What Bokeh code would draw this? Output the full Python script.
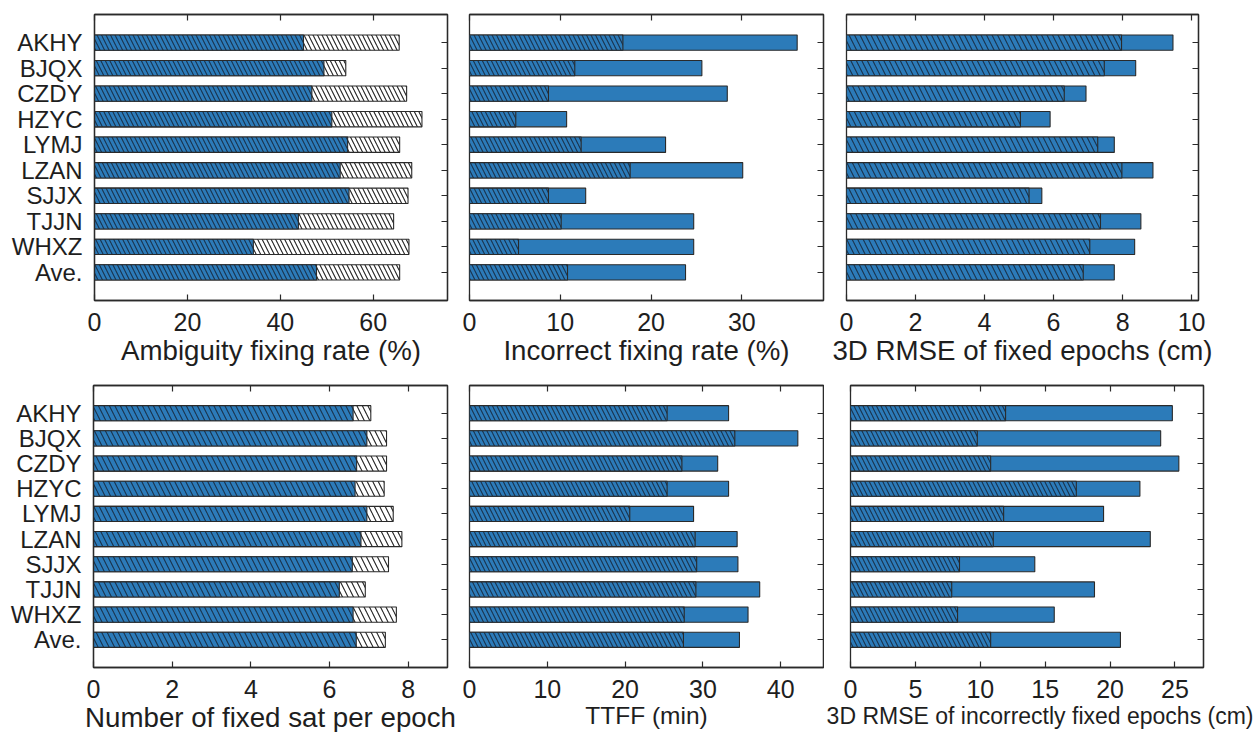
from bokeh.plotting import figure
from bokeh.models import (FactorRange, Range1d, FixedTicker, LinearAxis, Title,
                          CategoricalAxis, CustomJSTickFormatter, ColumnDataSource)
from bokeh.layouts import column, row
from bokeh.embed import file_html
from bokeh.resources import INLINE

# ---------------- data ----------------
stations = ["AKHY", "BJQX", "CZDY", "HZYC", "LYMJ", "LZAN", "SJJX", "TJJN", "WHXZ", "Ave."]

fix_rate_a = [45.0, 49.4, 46.8, 51.1, 54.5, 52.9, 54.8, 43.9, 34.2, 47.8]
fix_rate_b = [65.6, 54.1, 67.2, 70.5, 65.7, 68.3, 67.5, 64.4, 67.7, 65.7]

wrong_rate_a = [16.9, 11.6, 8.7, 5.1, 12.3, 17.7, 8.7, 10.1, 5.4, 10.8]
wrong_rate_b = [36.1, 25.6, 28.4, 10.7, 21.6, 30.1, 12.8, 24.7, 24.7, 23.8]

rmse_fixed_a = [7.97, 7.47, 6.31, 5.04, 7.28, 7.98, 5.29, 7.36, 7.05, 6.86]
rmse_fixed_b = [9.46, 8.38, 6.94, 5.90, 7.76, 8.88, 5.66, 8.53, 8.35, 7.76]

nsat_a = [6.60, 6.95, 6.69, 6.65, 6.95, 6.80, 6.58, 6.25, 6.60, 6.68]
nsat_b = [7.05, 7.45, 7.45, 7.39, 7.62, 7.84, 7.50, 6.91, 7.70, 7.42]

ttff_a = [25.4, 34.1, 27.3, 25.4, 20.6, 29.0, 29.2, 29.1, 27.6, 27.5]
ttff_b = [33.3, 42.2, 31.9, 33.3, 28.8, 34.4, 34.5, 37.3, 35.8, 34.7]

rmse_wrong_a = [11.95, 9.77, 10.8, 17.4, 11.8, 11.0, 8.4, 7.8, 8.25, 10.8]
rmse_wrong_b = [24.8, 23.9, 25.3, 22.3, 19.5, 23.1, 14.2, 18.8, 15.7, 20.8]

ticks_1 = [0, 20, 40, 60]
ticks_2 = [0, 10, 20, 30]
ticks_3 = [0, 2, 4, 6, 8, 10]
ticks_4 = [0, 2, 4, 6, 8]
ticks_5 = [0, 10, 20, 30, 40]
ticks_6 = [0, 5, 10, 15, 20, 25]

titles = ["Ambiguity fixing rate (%)", "Incorrect fixing rate (%)",
          "3D RMSE of fixed epochs (cm)", "Number of fixed sat per epoch",
          "TTFF (min)", "3D RMSE of incorrectly fixed epochs (cm)"]

# ---------------- style ----------------
BLUE = "#2C7BB9"
EDGE = "#2a2a2a"
TXT = "#1e1e1e"
FONT = "Liberation Sans"


def panel(title, a, b, xmax, ticks, white_total, hscale, frame_w, frame_h,
          bl, br, bt, bb, show_cats, title_size="27.7px", title_as_obj=False,
          title_offset=0):
    yr = FactorRange(factors=list(reversed(stations)), range_padding=0.6,
                     range_padding_units="absolute")
    p = figure(y_range=yr, x_range=Range1d(0, xmax), frame_width=frame_w,
               frame_height=frame_h, min_border_left=bl, min_border_right=br,
               min_border_top=bt, min_border_bottom=bb, output_backend="svg",
               toolbar_location=None, tools="")
    p.xgrid.visible = False
    p.ygrid.visible = False
    p.outline_line_color = EDGE
    p.outline_line_width = 1.3
    p.background_fill_color = "white"
    p.border_fill_color = "white"

    src = ColumnDataSource(dict(y=stations, a=a, b=b))
    if white_total:
        p.hbar(y="y", left=0, right="b", height=0.6, source=src,
               fill_color="white", line_color=EDGE, line_width=1.1,
               hatch_pattern="\\", hatch_color="#222222", hatch_scale=hscale,
               hatch_weight=1.1)
    else:
        p.hbar(y="y", left=0, right="b", height=0.6, source=src,
               fill_color=BLUE, line_color=EDGE, line_width=1.1)
    p.hbar(y="y", left=0, right="a", height=0.6, source=src,
           fill_color=BLUE, line_color=EDGE, line_width=1.1,
           hatch_pattern="\\", hatch_color="#15263a", hatch_alpha=0.85,
           hatch_scale=hscale, hatch_weight=1.1)

    # bottom axis
    xa = p.xaxis[0]
    xa.ticker = FixedTicker(ticks=ticks)
    xa.major_tick_in = 6
    xa.major_tick_out = 0
    xa.minor_tick_line_color = None
    xa.axis_line_color = EDGE
    xa.axis_line_width = 1.3
    xa.major_tick_line_color = EDGE
    xa.major_tick_line_width = 1.2
    xa.major_label_text_font = FONT
    xa.major_label_text_font_size = "25px"
    xa.major_label_text_color = TXT
    xa.major_label_standoff = 12
    if title_as_obj:
        t = Title(text=title, align="right", offset=title_offset,
                  text_font=FONT, text_font_size=title_size,
                  text_font_style="normal", text_color=TXT, standoff=1)
        p.add_layout(t, "below")
    else:
        xa.axis_label = title
        xa.axis_label_text_font = FONT
        xa.axis_label_text_font_size = title_size
        xa.axis_label_text_font_style = "normal"
        xa.axis_label_text_color = TXT
        xa.axis_label_standoff = 1

    # left axis
    ya = p.yaxis[0]
    if show_cats:
        ya.major_tick_in = 0
        ya.major_tick_out = 0
        ya.axis_line_color = EDGE
        ya.axis_line_width = 1.3
        ya.major_label_text_font = FONT
        ya.major_label_text_font_size = "24px"
        ya.major_label_text_color = TXT
        ya.major_label_standoff = 12
    else:
        ya.visible = False

    blank = CustomJSTickFormatter(code="return ''")
    top = LinearAxis(ticker=FixedTicker(ticks=ticks), formatter=blank,
                     major_tick_in=6, major_tick_out=0,
                     minor_tick_line_color=None, axis_line_color=EDGE,
                     axis_line_width=1.3, major_tick_line_color=EDGE,
                     major_tick_line_width=1.2,
                     major_label_text_font_size="1px", major_label_standoff=0)
    p.add_layout(top, "above")
    right = CategoricalAxis()
    right.major_tick_in = 6
    right.major_tick_out = 0
    right.axis_line_color = EDGE
    right.axis_line_width = 1.3
    right.major_tick_line_color = EDGE
    right.major_tick_line_width = 1.2
    right.major_label_text_font_size = "1px"
    right.major_label_text_alpha = 0
    right.major_label_standoff = 0
    p.add_layout(right, "right")
    return p


p1 = panel(titles[0], fix_rate_a, fix_rate_b, 76, ticks_1, True, 9,
           353, 286, 94, 11, 14, 70, True)
p2 = panel(titles[1], wrong_rate_a, wrong_rate_b, 39, ticks_2, False, 9,
           354, 286, 11, 5, 14, 70, False)
p3 = panel(titles[2], rmse_fixed_a, rmse_fixed_b, 10.2, ticks_3, False, 11,
           352, 286, 18, 50, 14, 70, False)

p4 = panel(titles[3], nsat_a, nsat_b, 9, ticks_4, True, 11,
           354, 282, 93, 11, 15, 63, True)
p5 = panel(titles[4], ttff_a, ttff_b, 45.5, ticks_5, False, 9,
           354, 282, 11, 1, 15, 63, False, title_size="24.5px")
p6 = panel(titles[5], rmse_wrong_a, rmse_wrong_b, 27.2, ticks_6, False, 9,
           353, 282, 26, 53, 15, 63, False, title_size="23px",
           title_as_obj=True, title_offset=-50)

layout = column(row(p1, p2, p3), row(p4, p5, p6))
open("out.html", "w").write(file_html(layout, INLINE))
